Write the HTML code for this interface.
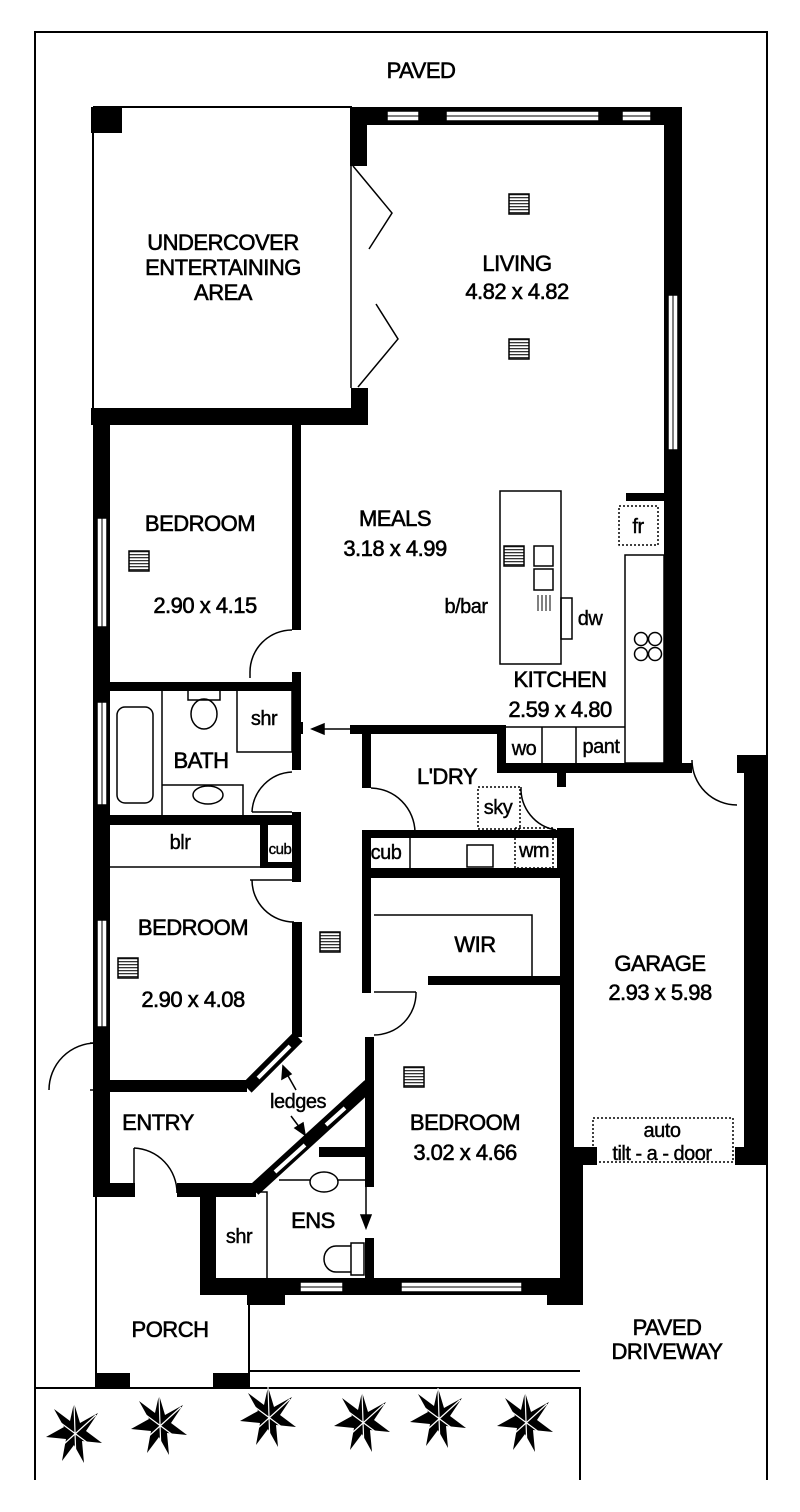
<!DOCTYPE html>
<html><head><meta charset="utf-8"><style>
html,body{margin:0;padding:0;background:#fff}
svg{display:block}
text{font-family:"Liberation Sans",sans-serif;fill:#000;text-anchor:middle}
.L{font-size:22px;stroke:#000;stroke-width:0.6;letter-spacing:-0.5px}
.s{font-size:20px;stroke:#000;stroke-width:0.4;letter-spacing:-0.5px}
</style></head><body>
<svg width="800" height="1512" viewBox="0 0 800 1512" xmlns="http://www.w3.org/2000/svg">
<defs>
<pattern id="vp" width="4" height="3" patternUnits="userSpaceOnUse"><rect width="4" height="3" fill="#fff"/><rect y="0" width="4" height="1.3" fill="#333"/></pattern>
<g id="vent"><rect x="0" y="0" width="20" height="20" fill="url(#vp)" stroke="#000" stroke-width="1.5"/></g>
<g id="tree" fill="#000"><path d="M0,-30 L6,-10 L24,-20 L12,-2 L28,10 L8,8 L10,30 L0,12 L-12,28 L-8,6 L-28,4 L-10,-6 L-20,-24 L-4,-12 Z"/><path d="M0,-30 L2,28 M-24,-18 L22,16 M22,-18 L-20,20" stroke="#fff" stroke-width="1.2"/></g>
</defs>
<g fill="none" stroke="#000" stroke-width="2">
<path d="M35,1480 V32 H767 V1480"/>
<path d="M35,1388 H580 V1480"/>
<path d="M249,1371 H580"/>
<path d="M96,1197 V1388 M249,1295 V1388"/>
<path d="M93,107 H352 M93,107 V410"/>
<line x1="351" y1="166" x2="351" y2="388" stroke-width="1.5"/>
<path d="M353,166 L392,213 L369,249 M376,304 L398,339 L358,387" stroke-width="1.5"/>
</g>
<g fill="#000">
<rect x="91" y="107" width="31" height="26"/>
<rect x="350" y="107" width="330" height="18"/>
<rect x="350" y="107" width="17" height="59"/>
<rect x="351" y="388" width="17" height="37"/>
<rect x="91" y="408" width="277" height="17"/>
<rect x="664" y="107" width="18" height="666"/>
<rect x="93" y="408" width="17" height="789"/>
<rect x="292" y="425" width="9" height="205"/>
<rect x="292" y="672" width="9" height="98"/>
<rect x="292" y="812" width="9" height="65"/>
<rect x="93" y="682" width="208" height="9"/>
<rect x="93" y="815" width="208" height="10"/>
<rect x="260" y="822" width="8" height="45"/>
<rect x="260" y="862" width="40" height="6"/>
<rect x="297" y="722" width="6" height="12"/>
<rect x="350" y="725" width="155" height="9"/>
<rect x="362" y="725" width="9" height="63"/>
<rect x="362" y="832" width="9" height="161"/>
<rect x="497" y="725" width="9" height="48"/>
<rect x="497" y="763" width="195" height="10"/>
<rect x="557" y="763" width="9" height="24"/>
<rect x="362" y="830" width="205" height="8"/>
<rect x="362" y="868" width="205" height="10"/>
<rect x="557" y="828" width="9" height="50"/>
<rect x="626" y="493" width="43" height="8"/>
<rect x="560" y="828" width="14" height="337"/>
<rect x="737" y="755" width="30" height="18"/>
<rect x="744" y="755" width="23" height="410"/>
<rect x="560" y="1147" width="37" height="18"/>
<rect x="735" y="1147" width="32" height="18"/>
<rect x="428" y="976" width="140" height="9"/>
<rect x="365" y="1037" width="9" height="150"/>
<rect x="365" y="1238" width="9" height="40"/>
<rect x="560" y="1165" width="23" height="130"/>
<rect x="292" y="877" width="9" height="5"/>
<rect x="292" y="922" width="10" height="115"/>
<rect x="96" y="1080" width="151" height="12"/>
<rect x="96" y="1183" width="39" height="14"/>
<rect x="177" y="1183" width="79" height="14"/>
<rect x="319" y="1147" width="55" height="10"/>
<rect x="200" y="1190" width="16" height="105"/>
<rect x="200" y="1278" width="383" height="17"/>
<rect x="247" y="1290" width="38" height="15"/>
<rect x="547" y="1290" width="36" height="15"/>
<rect x="96" y="1373" width="34" height="15"/>
<rect x="213" y="1373" width="36" height="15"/>
</g>
<g stroke-linecap="butt">
<line x1="298" y1="1037" x2="247" y2="1088" stroke="#000" stroke-width="13"/>
<line x1="290" y1="1046" x2="258" y2="1078" stroke="#fff" stroke-width="4"/>
<line x1="369" y1="1085" x2="254" y2="1190" stroke="#000" stroke-width="13"/>
<line x1="345" y1="1108" x2="326" y2="1125" stroke="#fff" stroke-width="4"/>
<line x1="305" y1="1145" x2="275" y2="1172" stroke="#fff" stroke-width="4"/>
</g>
<g fill="#fff" stroke="#000" stroke-width="1.5">
<rect x="387" y="111" width="32" height="10"/>
<rect x="446" y="111" width="153" height="10"/>
<rect x="622" y="111" width="29" height="10"/>
<rect x="668" y="295" width="10" height="155"/>
<rect x="97" y="518" width="10" height="109"/>
<rect x="97" y="702" width="10" height="103"/>
<rect x="97" y="920" width="10" height="107"/>
<rect x="300" y="1282" width="43" height="10"/>
<rect x="401" y="1282" width="121" height="10"/>
</g>
<g stroke="#000" stroke-width="1">
<path d="M387,116 H419 M446,116 H599 M622,116 H651 M673,295 V450 M102,518 V627 M102,702 V805 M102,920 V1027 M300,1287 H343 M401,1287 H522"/>
</g>
<g fill="none" stroke="#000" stroke-width="1.5">
<path d="M96,1043 V1090 M90,1043 H96 M90,1090 H96"/>
<path d="M96,1043 A47,47 0 0 0 49,1090"/>
<path d="M292,630 A42,42 0 0 0 250,672 M250,672 V678"/>
<path d="M292,772 A42,42 0 0 0 252,812 M252,812 H292"/>
<path d="M250,880 H297 M252,880 A42,42 0 0 0 294,922"/>
<path d="M371,788 A45,45 0 0 1 415,832"/>
<path d="M521,787 A42,42 0 0 0 556,830"/>
<path d="M692,760 A45,45 0 0 0 737,805"/>
<path d="M416,992 A42,42 0 0 1 374,1035 M374,992 H416"/>
<path d="M134,1148 V1197 M134,1148 A45,45 0 0 1 177,1193"/>
<rect x="117" y="707" width="36" height="96" rx="8"/>
<path d="M162,690 V815 M162,785 H243 V815"/>
<rect x="188" y="690" width="32" height="10"/>
<ellipse cx="204" cy="714" rx="13" ry="15"/>
<rect x="237" y="690" width="55" height="62"/>
<ellipse cx="208" cy="795" rx="15" ry="9"/>
<path d="M110,867 H262"/>
<path d="M410,838 V868"/>
<rect x="467" y="845" width="26" height="22"/>
<rect x="500" y="491" width="61" height="173"/>
<rect x="534" y="546" width="19" height="20"/>
<rect x="534" y="569" width="19" height="21"/>
<path d="M538,595 V611 M542,595 V611 M546,595 V611 M550,595 V611" stroke-width="1"/>
<rect x="561" y="598" width="11" height="41"/>
<rect x="625" y="555" width="39" height="208"/>
<circle cx="641" cy="639" r="6.5"/><circle cx="655" cy="639" r="6.5"/>
<circle cx="641" cy="654" r="6.5"/><circle cx="655" cy="654" r="6.5"/>
<path d="M505,727 H625 M542,727 V763 M576,727 V763"/>
<path d="M374,915 H532 V976"/>
<path d="M216,1192 H267 V1278 M279,1180 H365"/>
<ellipse cx="324" cy="1182" rx="14" ry="10" fill="#fff"/>
<rect x="351" y="1243" width="13" height="32"/>
<path d="M351,1246 H336 A12,13 0 0 0 336,1272 H351"/>
</g>
<g fill="none" stroke="#000" stroke-width="1.5" stroke-dasharray="2,2">
<rect x="619" y="506" width="39" height="39"/>
<rect x="478" y="787" width="42" height="42"/>
<rect x="515" y="828" width="38" height="40"/>
<rect x="593" y="1118" width="140" height="44"/>
</g>
<g stroke="#000" stroke-width="1.5" fill="#000">
<line x1="350" y1="729" x2="320" y2="729"/><path d="M312,729 L324,724 L324,734 Z"/>
<line x1="366" y1="1157" x2="366" y2="1218"/><path d="M366,1228 L361,1215 L371,1215 Z"/>
<line x1="296" y1="1090" x2="287" y2="1074"/><path d="M283,1066 L282,1079 L291,1074 Z"/>
<line x1="291" y1="1116" x2="300" y2="1128"/><path d="M305,1135 L295,1128 L303,1123 Z"/>
</g>
<use href="#vent" x="509" y="194"/>
<use href="#vent" x="509" y="339"/>
<use href="#vent" x="129" y="551"/>
<use href="#vent" x="504" y="546"/>
<use href="#vent" x="320" y="932"/>
<use href="#vent" x="118" y="958"/>
<use href="#vent" x="404" y="1067"/>
<use href="#tree" x="74" y="1433"/>
<use href="#tree" x="159" y="1425"/>
<use href="#tree" x="268" y="1417"/>
<use href="#tree" x="362" y="1422"/>
<use href="#tree" x="438" y="1418"/>
<use href="#tree" x="525" y="1422"/>
<text class="L" x="421" y="78">PAVED</text>
<text class="L" x="223" y="250">UNDERCOVER</text>
<text class="L" x="223" y="275">ENTERTAINING</text>
<text class="L" x="223" y="300">AREA</text>
<text class="L" x="517" y="271">LIVING</text>
<text class="L" x="517" y="299">4.82 x 4.82</text>
<text class="L" x="200" y="531">BEDROOM</text>
<text class="L" x="205" y="613">2.90 x 4.15</text>
<text class="L" x="395" y="526">MEALS</text>
<text class="L" x="395" y="556">3.18 x 4.99</text>
<text class="s" x="466" y="613">b/bar</text>
<text class="s" x="590" y="625">dw</text>
<text class="s" x="638" y="533">fr</text>
<text class="L" x="560" y="687">KITCHEN</text>
<text class="L" x="560" y="717">2.59 x 4.80</text>
<text class="s" x="524" y="755">wo</text>
<text class="s" x="601" y="753">pant</text>
<text class="s" x="264" y="725">shr</text>
<text class="L" x="201" y="768">BATH</text>
<text class="L" x="447" y="784">L'DRY</text>
<text class="s" x="498" y="814">sky</text>
<text class="s" x="534" y="857">wm</text>
<text class="s" x="386" y="859">cub</text>
<text class="s" x="180" y="849">blr</text>
<text class="s" x="280" y="854" style="font-size:15px">cub</text>
<text class="L" x="193" y="935">BEDROOM</text>
<text class="L" x="193" y="1007">2.90 x 4.08</text>
<text class="L" x="475" y="952">WIR</text>
<text class="L" x="660" y="971">GARAGE</text>
<text class="L" x="660" y="1000">2.93 x 5.98</text>
<text class="s" x="298" y="1108">ledges</text>
<text class="L" x="158" y="1130">ENTRY</text>
<text class="L" x="465" y="1130">BEDROOM</text>
<text class="L" x="465" y="1160">3.02 x 4.66</text>
<text class="s" x="662" y="1137">auto</text>
<text class="s" x="662" y="1160">tilt - a - door</text>
<text class="L" x="313" y="1228">ENS</text>
<text class="s" x="239" y="1243">shr</text>
<text class="L" x="170" y="1337">PORCH</text>
<text class="L" x="667" y="1335">PAVED</text>
<text class="L" x="667" y="1359">DRIVEWAY</text>
</svg>
</body></html>
